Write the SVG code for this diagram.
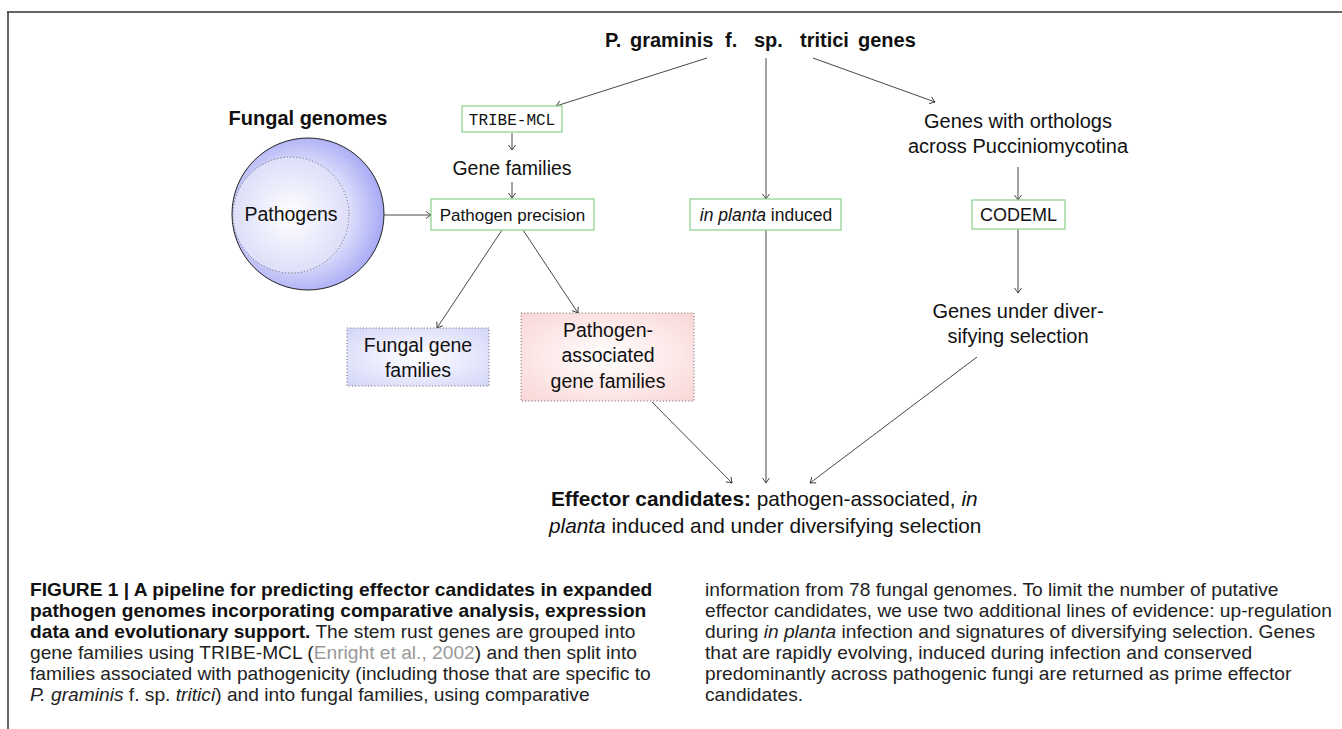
<svg xmlns="http://www.w3.org/2000/svg" width="1342" height="729" viewBox="0 0 1342 729">
<defs>
<style>
.t{font-family:"Liberation Sans",Arial,sans-serif;fill:#111}
.mono{font-family:"Liberation Mono","Courier New",monospace;fill:#111}
.box{fill:#fff;stroke:#93d393;stroke-width:1.3}
.dot{stroke:#666;stroke-width:1;stroke-dasharray:1 2.2}
.edge{stroke:#333;stroke-width:0.9;fill:none;marker-end:url(#ah)}
.cap{font-family:"Liberation Sans",Arial,sans-serif;font-size:17.5px;fill:#222}
.capb{font-family:"Liberation Sans",Arial,sans-serif;font-size:17.5px;font-weight:bold;fill:#111}
</style>
<marker id="ah" markerUnits="userSpaceOnUse" markerWidth="12" markerHeight="12" refX="0" refY="0" viewBox="-7 -6 9 12" orient="auto">
<path d="M-5,-3.6 Q-1.6,-0.9 0,0 Q-1.6,0.9 -5,3.6" fill="none" stroke="#333" stroke-width="0.9"/>
</marker>
<radialGradient id="gOuter" cx="0.45" cy="0.5" r="0.55">
<stop offset="0" stop-color="#ffffff"/>
<stop offset="0.55" stop-color="#e2e3fc"/>
<stop offset="1" stop-color="#a6a9f4"/>
</radialGradient>
<radialGradient id="gInner" cx="0.5" cy="0.5" r="0.55">
<stop offset="0" stop-color="#ffffff"/>
<stop offset="1" stop-color="#dadbf8"/>
</radialGradient>
<radialGradient id="gBlue" cx="0.5" cy="0.5" r="0.7">
<stop offset="0" stop-color="#ffffff"/>
<stop offset="1" stop-color="#d3d5f8"/>
</radialGradient>
<radialGradient id="gRed" cx="0.5" cy="0.5" r="0.7">
<stop offset="0" stop-color="#ffffff"/>
<stop offset="1" stop-color="#fad6d6"/>
</radialGradient>
</defs>
<rect x="0" y="0" width="1342" height="729" fill="#fff"/>
<g id="frame">
<line x1="7" y1="12" x2="1342" y2="12" stroke="#333" stroke-width="1.5"/>
<line x1="8" y1="12" x2="8" y2="729" stroke="#333" stroke-width="1.5"/>
</g>
<g id="connectors">
<line class="edge" x1="707" y1="58" x2="556" y2="106"/>
<line class="edge" x1="766" y1="58" x2="766" y2="199"/>
<line class="edge" x1="813" y1="58" x2="935" y2="102"/>
<line class="edge" x1="512" y1="133" x2="512" y2="150"/>
<line class="edge" x1="512" y1="182" x2="512" y2="198"/>
<line class="edge" x1="384" y1="215" x2="431" y2="215"/>
<line class="edge" x1="502" y1="230" x2="437" y2="328"/>
<line class="edge" x1="523" y1="230" x2="578" y2="313"/>
<line class="edge" x1="1018" y1="167" x2="1018" y2="200"/>
<line class="edge" x1="1018" y1="229" x2="1018" y2="293"/>
<line class="edge" x1="766" y1="230" x2="766" y2="483"/>
<line class="edge" x1="652" y1="402" x2="732" y2="483"/>
<line class="edge" x1="977" y1="357" x2="810" y2="483"/>
</g>
<g id="title">
<text class="t" y="47" font-size="20" font-weight="bold"><tspan x="605">P.</tspan><tspan x="630">graminis</tspan><tspan x="725">f.</tspan><tspan x="754">sp.</tspan><tspan x="800">tritici</tspan><tspan x="858">genes</tspan></text>
</g>
<g id="fungal-genomes">
<text class="t" x="308" y="125" font-size="20" font-weight="bold" text-anchor="middle">Fungal genomes</text>
<circle cx="308" cy="214" r="76" fill="url(#gOuter)" stroke="#222" stroke-width="1"/>
</g>
<g id="pathogens">
<circle cx="291" cy="215" r="58" fill="url(#gInner)" class="dot"/>
<text class="t" x="291" y="221" font-size="19.5" text-anchor="middle">Pathogens</text>
</g>
<g id="tribe-mcl">
<rect class="box" x="462" y="106" width="100" height="26"/>
<text class="mono" x="512" y="125" font-size="16" text-anchor="middle">TRIBE-MCL</text>
</g>
<g id="gene-families">
<text class="t" x="512" y="175" font-size="19.5" text-anchor="middle">Gene families</text>
</g>
<g id="pathogen-precision">
<rect class="box" x="431" y="199" width="163" height="31"/>
<text class="t" x="512.5" y="221" font-size="17" text-anchor="middle">Pathogen precision</text>
</g>
<g id="in-planta">
<rect class="box" x="690" y="199" width="151" height="31"/>
<text class="t" x="766" y="221" font-size="17.5" text-anchor="middle"><tspan font-style="italic">in planta</tspan> induced</text>
</g>
<g id="orthologs">
<text class="t" x="1018" y="128" font-size="20" text-anchor="middle">Genes with orthologs</text>
<text class="t" x="1018" y="153" font-size="20" text-anchor="middle">across Pucciniomycotina</text>
</g>
<g id="codeml">
<rect class="box" x="972" y="200" width="93" height="29"/>
<text class="t" x="1018.5" y="221" font-size="18" text-anchor="middle">CODEML</text>
</g>
<g id="diversifying">
<text class="t" x="1018" y="318" font-size="20" text-anchor="middle">Genes under diver-</text>
<text class="t" x="1018" y="343" font-size="20" text-anchor="middle">sifying selection</text>
</g>
<g id="fungal-gene-families">
<rect x="347" y="328" width="142" height="58" fill="url(#gBlue)" class="dot"/>
<text class="t" x="418" y="352" font-size="19.5" text-anchor="middle">Fungal gene</text>
<text class="t" x="418" y="377" font-size="19.5" text-anchor="middle">families</text>
</g>
<g id="pathogen-associated">
<rect x="521" y="313" width="173" height="88" fill="url(#gRed)" class="dot"/>
<text class="t" x="608" y="337" font-size="19.5" text-anchor="middle">Pathogen-</text>
<text class="t" x="608" y="362" font-size="19.5" text-anchor="middle">associated</text>
<text class="t" x="608" y="388" font-size="19.5" text-anchor="middle">gene families</text>
</g>
<g id="effector">
<text class="t" x="551" y="506" font-size="20.8"><tspan font-weight="bold">Effector candidates:</tspan> pathogen-associated, <tspan font-style="italic">in</tspan></text>
<text class="t" x="549" y="533" font-size="20.8"><tspan font-style="italic">planta</tspan> induced and under diversifying selection</text>
</g>
<g id="caption">
<g transform="translate(30,0) scale(1.097,1)">
<text class="capb" x="0" y="596">FIGURE 1 | A pipeline for predicting effector candidates in expanded</text>
<text class="capb" x="0" y="617">pathogen genomes incorporating comparative analysis, expression</text>
<text class="cap" x="0" y="638"><tspan font-weight="bold" fill="#111">data and evolutionary support.</tspan> The stem rust genes are grouped into</text>
<text class="cap" x="0" y="659">gene families using TRIBE-MCL (<tspan fill="#999">Enright et al., 2002</tspan>) and then split into</text>
<text class="cap" x="0" y="680">families associated with pathogenicity (including those that are specific to</text>
<text class="cap" x="0" y="701"><tspan font-style="italic">P. graminis</tspan> f. sp. <tspan font-style="italic">tritici</tspan>) and into fungal families, using comparative</text>
</g>
<g transform="translate(705,0) scale(1.097,1)">
<text class="cap" x="0" y="596">information from 78 fungal genomes. To limit the number of putative</text>
<text class="cap" x="0" y="617">effector candidates, we use two additional lines of evidence: up-regulation</text>
<text class="cap" x="0" y="638">during <tspan font-style="italic">in planta</tspan> infection and signatures of diversifying selection. Genes</text>
<text class="cap" x="0" y="659">that are rapidly evolving, induced during infection and conserved</text>
<text class="cap" x="0" y="680">predominantly across pathogenic fungi are returned as prime effector</text>
<text class="cap" x="0" y="701">candidates.</text>
</g>
</g>
</svg>
